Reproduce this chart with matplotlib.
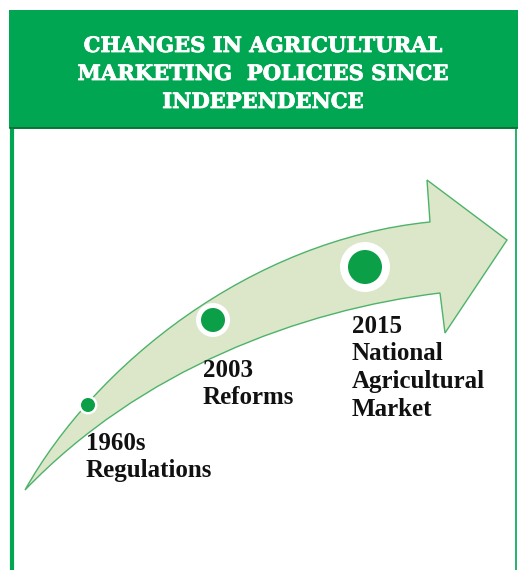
import matplotlib
matplotlib.use("Agg")
import matplotlib.pyplot as plt
from matplotlib.path import Path
from matplotlib.patches import PathPatch, Rectangle, Circle
import matplotlib.patheffects as pe

# ---- content ----
title_lines = ["CHANGES IN AGRICULTURAL", "MARKETING  POLICIES SINCE", "INDEPENDENCE"]
years = ["1960s", "2003", "2015"]
events = [["Regulations"], ["Reforms"], ["National", "Agricultural", "Market"]]
milestone_size = [1, 2, 3]  # relative marker size along the arrow

# ---- colours ----
GREEN = "#00A651"
ARROW_FILL = "#DCE6C9"
ARROW_EDGE = "#4DB36A"
DOT = "#0B9F48"

W, H = 518, 570
fig = plt.figure(figsize=(W / 100, H / 100), dpi=100)
ax = fig.add_axes([0, 0, 1, 1])
ax.set_xlim(0, W)
ax.set_ylim(H, 0)
ax.axis("off")

# panel
ax.add_patch(Rectangle((11, 128), 505, 450, facecolor="white", edgecolor=GREEN, lw=1.2, zorder=1))
ax.plot([11.5, 11.5], [128, 570], color=GREEN, lw=3, zorder=2)
# header
ax.add_patch(Rectangle((9, 10), 515, 118, facecolor=GREEN, edgecolor="none", zorder=2))
ax.plot([10, 518], [128, 128], color="#0a6b34", lw=1.2, zorder=3)

for i, line in enumerate(title_lines):
    ax.text(263, 52 + i * 28, line, color="white", fontsize=15.2, fontweight="bold",
            family="DejaVu Serif", ha="center", va="baseline", zorder=4,
            path_effects=[pe.withStroke(linewidth=0.6, foreground="white")])

# arrow
verts = [(25, 490),
         (95, 365), (250, 240), (430, 222),
         (427, 180), (507, 240), (445, 333), (440, 293),
         (300, 310), (140, 370), (25, 490),
         (25, 490)]
codes = [Path.MOVETO,
         Path.CURVE4, Path.CURVE4, Path.CURVE4,
         Path.LINETO, Path.LINETO, Path.LINETO, Path.LINETO,
         Path.CURVE4, Path.CURVE4, Path.CURVE4,
         Path.CLOSEPOLY]
ax.add_patch(PathPatch(Path(verts, codes), facecolor=ARROW_FILL, edgecolor=ARROW_EDGE,
                       lw=1.0, zorder=3, joinstyle="miter"))

# milestones
centers = [(88, 405), (213, 320), (365, 267)]
for (cx, cy), s in zip(centers, milestone_size):
    r_in = [7, 12, 17][s - 1]
    r_out = [9.5, 17, 25][s - 1]
    ax.add_patch(Circle((cx, cy), r_out, facecolor="white", edgecolor="none", zorder=4))
    ax.add_patch(Circle((cx, cy), r_in, facecolor=DOT, edgecolor="none", zorder=5))

label_pos = [(86, 450), (203, 377), (352, 333)]
for (x, y), yr, ev in zip(label_pos, years, events):
    lines = [yr] + ev
    for j, t in enumerate(lines):
        ax.text(x, y + j * 27.5, t, fontsize=18, fontweight="bold", family="Liberation Serif",
                color="#111111", ha="left", va="baseline", zorder=6)

fig.savefig("out.png", dpi=100)
